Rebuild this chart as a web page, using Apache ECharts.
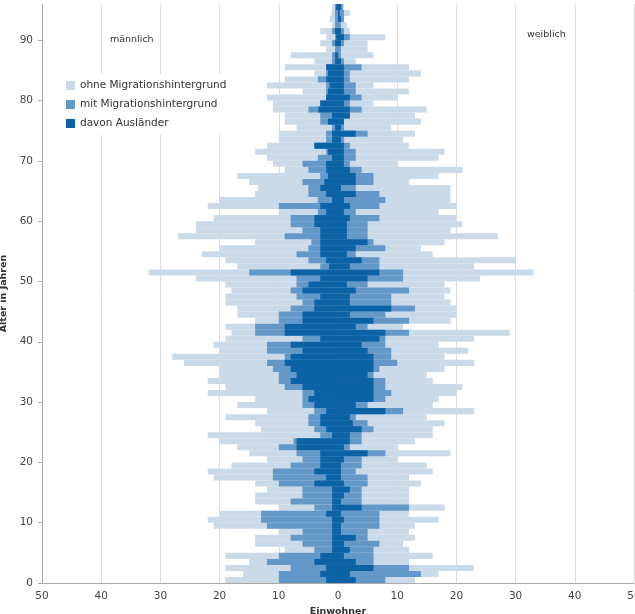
<!DOCTYPE html>
<html><head><meta charset="utf-8">
<script src="https://cdn.jsdelivr.net/npm/echarts@6/dist/echarts.min.js"></script>
<style>html,body{margin:0;padding:0;background:#fff}#c{width:635px;height:614px}</style>
</head><body><div id="c"></div>
<script>
// Alter 0..95
const ages = Array.from({length: 96}, (_, i) => String(i));
const yTicks = [0, 10, 20, 30, 40, 50, 60, 70, 80, 90];
const xTicks = [-50, -40, -30, -20, -10, 0, 10, 20, 30, 40, 50];

// männlich: gesamt (äußere Kante), mit Migrationshintergrund, davon Ausländer
const maleTotal = [19,16,19,15,19,9,14,14,10,21,22,20,10,14,14,12,14,21,22,18,12,15,17,20,22,13,14,19,12,17,14,22,19,22,20,20,26,28,20,21,19,18,19,14,17,17,19,19,18,19,24,32,17,19,23,20,14,27,24,24,21,10,22,20,14,13.5,15,17,9,11,12,14,12,10,10,7,9,9,11,11,12,6,12,9,4,9,4,8,2,3,2,3,1,1.4,1.1,1];
const maleMig = [10,10,8,12,10,4,6,8,6,12,13,13,4,8,6,6,10,11,11,8,6,7,10,7.5,3,4,5,5,4,6,6,6,9,10,10,11,12,9,12,12,6,14,14,10,10,8,6,7,8,7,7,15,3,5,7,5,4.5,9,6,8,8,3.4,10,3.4,5,5,6,3,5,6,3.4,2,4,2,2,1,3,3,5,3,2,2,2,3.4,2,2,1,1,0.5,1,0.5,1,0.5,0.5,0.5,0.5];
const maleAus = [2,3,2,4,3,1,1,1,1,1,1,2,1,1,1,1,4,2,4,3,3,3,7,7,1,2,3,3,2,4,5,4,6,8,7,8,9,8,6,8,3,9,9,6,6,4,4,3,6,5,3,8,1.5,2,3,3,3,3,3,4,4,2,3,1,2,3,2.3,1.7,2,2,1,1.7,4,1,1,0.5,1.7,1,3.3,3,2,1.7,1.4,2,1.7,2,0.5,0.5,0,0.5,0.3,0.5,0,0,0,0.3];

// weiblich
const femaleTotal = [13,17,23,12,16,12,11,13,12,13,17,12,18,12,12,12,14,12,16,15,10,19,10,13,16,16,18,15,23,16,17,20,21,16,15,18,23,18,22,17,23,29,11,19,20,20,19,18,19,18,24,33,23,30,16,14,18,27,19,21,20,17,20,19,19,19,12,17,21,10,17,18,12,11,13,9,14,13,15,6,10,12,6,12,14,12,3,6,5,5,8,2,1.5,1,2,1];
const femaleMig = [8,14,12,6,6,6,7,5,5,7,7,7,12,4,4,4,5,5,3,4,4,8,2,4,4,6,5,3,11,5,8,9,8,8,6,7,10,9,9,8,8,12,5,12,8,13,9,9,12,5,11,11,7,7,3,8,6,5,5,5,7,3,7,8,7,3,6,6,4,2,3,3,2,1,5,1,1,2,4,2,4,3,3,2,2,4,1,0.5,0.5,1,2,1,0.5,1,1,0.8];
const femaleAus = [3,2,6,3,1,2,1,3,0.5,0.5,1,0.5,4,0.5,1,2,1,0.5,0.5,0.5,1,5,1,2,2,4,2.5,2,8,3,6,6,6,6,5,6,6,6,5,4,7,8,3,6,2,9,2,2,3,1.5,5,7,2,4,1.5,3,5,1.5,1.5,1.5,2,1,2,1,3,0.5,3,3,2,1,1,1,1,0.5,3,0.5,1,2,2,1,2,1,1,1,1,1,0.5,0,0,0.5,1,0.5,0,0.5,0.3,0.5];

const NAME_OHNE = 'ohne Migrationshintergrund';
const NAME_MIT = 'mit Migrationshintergrund';
const NAME_AUS = 'davon Ausländer';
const C_LIGHT = '#cbdae9', C_MID = '#6398c9', C_DARK = '#0b63a6';
const FONT = 'DejaVu Sans';

const neg = a => a.map(v => -v);
function bar(name, data, color) {
  return {
    type: 'bar', name, data, yAxisIndex: 0,
    barGap: '-100%', barCategoryGap: '0%',
    itemStyle: { color }, silent: true, animation: false
  };
}

const chart = echarts.init(document.getElementById('c'), null, { renderer: 'canvas' });
chart.setOption({
  animation: false,
  textStyle: { fontFamily: FONT },
  grid: { left: 42, right: 1, top: 4, bottom: 31, containLabel: false, outerBoundsMode: 'none' },
  legend: {
    orient: 'vertical', left: 60, top: 74,
    data: [NAME_OHNE, NAME_MIT, NAME_AUS],
    icon: 'rect', itemWidth: 9, itemHeight: 9, itemGap: 8,
    backgroundColor: '#fff', padding: [6, 8, 6, 6],
    textStyle: { fontSize: 10.5, color: '#333', fontFamily: FONT }
  },
  xAxis: {
    type: 'value', min: -50, max: 50, interval: 10,
    name: 'Einwohner', nameLocation: 'middle', nameGap: 19,
    nameTextStyle: { fontSize: 9.5, fontWeight: 'bold', color: '#333', fontFamily: FONT },
    axisLine: { show: true, lineStyle: { color: '#aaa' } },
    axisTick: { show: false },
    axisLabel: { color: '#444', fontSize: 10.5, margin: 8, fontFamily: FONT, formatter: v => String(Math.abs(v)) },
    splitLine: { show: true, lineStyle: { color: '#dcdcdc', width: 1 } }
  },
  yAxis: [
    { type: 'category', data: ages, show: false, boundaryGap: true },
    {
      type: 'value', min: 0, max: 96, interval: 10, position: 'left',
      name: 'Alter in Jahren', nameLocation: 'middle', nameGap: 30, nameRotate: 90,
      nameTextStyle: { fontSize: 9.5, fontWeight: 'bold', color: '#333', fontFamily: FONT },
      axisLine: { show: true, lineStyle: { color: '#aaa' } },
      axisTick: { show: true, length: 4, inside: false, lineStyle: { color: '#aaa' } },
      axisLabel: { color: '#444', fontSize: 10.5, margin: 9, fontFamily: FONT, showMaxLabel: false,
        formatter: v => (yTicks.indexOf(v) >= 0 ? String(v) : '') },
      splitLine: { show: false }
    }
  ],
  graphic: [
    { type: 'text', left: 110, top: 35, style: { text: 'männlich', fill: '#333', font: '9.5px "DejaVu Sans"' } },
    { type: 'text', left: 527, top: 30, style: { text: 'weiblich', fill: '#333', font: '9.5px "DejaVu Sans"' } }
  ],
  series: [
    bar(NAME_OHNE, neg(maleTotal), C_LIGHT),
    bar(NAME_MIT, neg(maleMig), C_MID),
    bar(NAME_AUS, neg(maleAus), C_DARK),
    bar(NAME_OHNE, femaleTotal, C_LIGHT),
    bar(NAME_MIT, femaleMig, C_MID),
    bar(NAME_AUS, femaleAus, C_DARK)
  ]
});
</script></body></html>
